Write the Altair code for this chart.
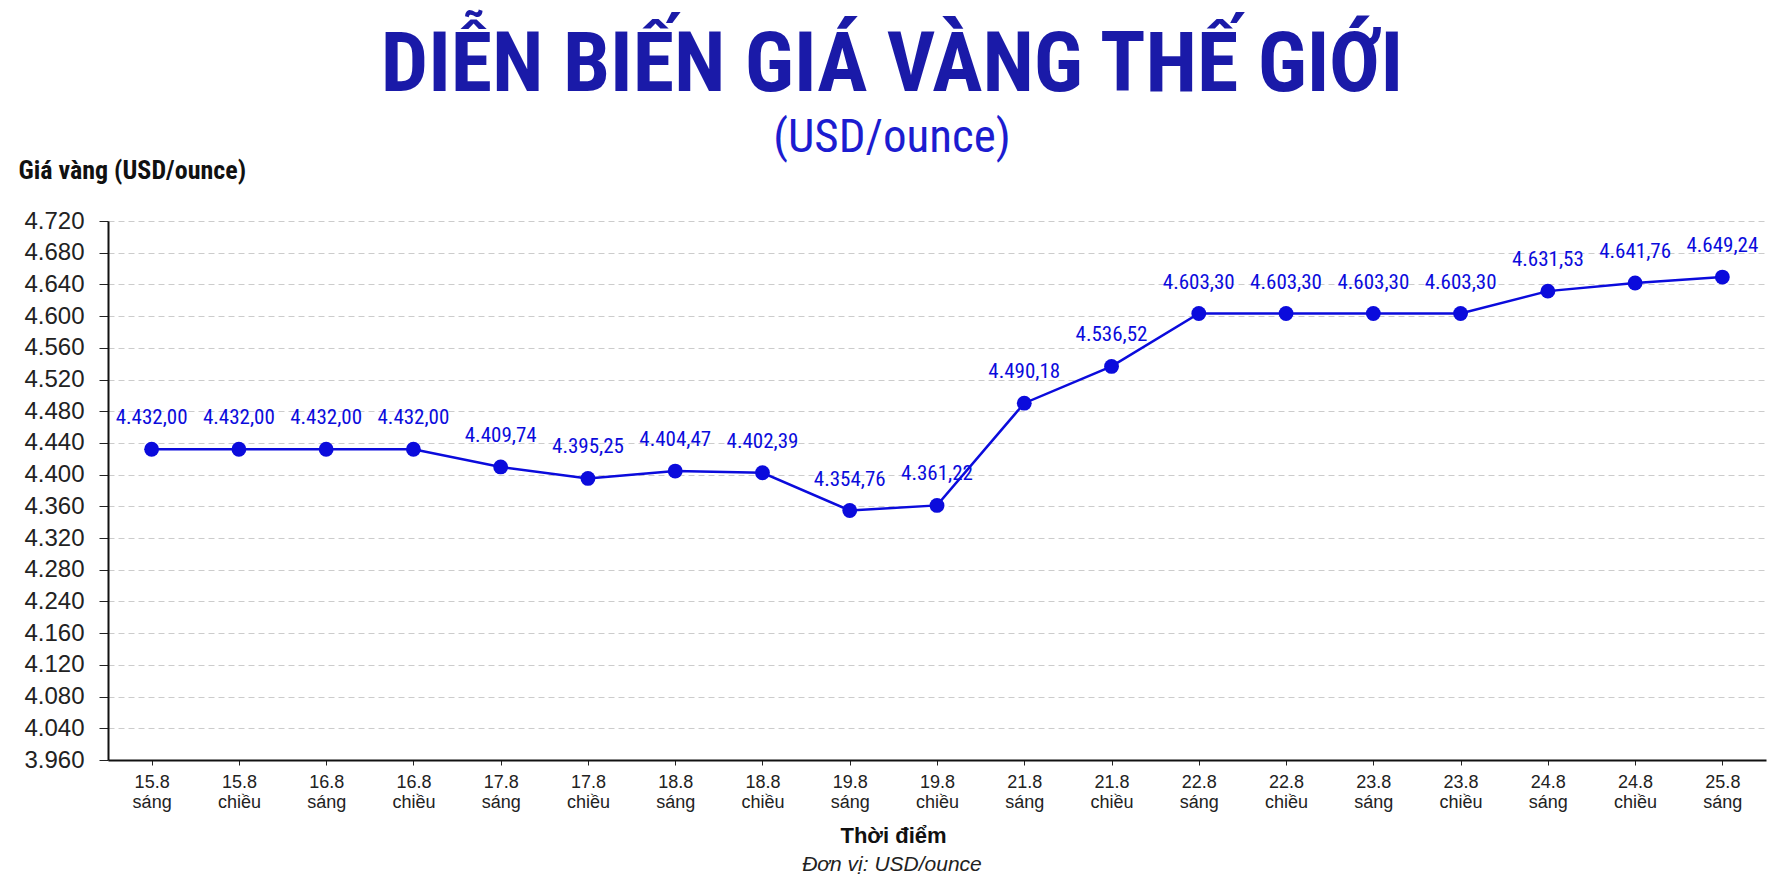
import altair as alt
import pandas as pd

MOC = [
    "15.8 sáng", "15.8 chiều", "16.8 sáng", "16.8 chiều", "17.8 sáng",
    "17.8 chiều", "18.8 sáng", "18.8 chiều", "19.8 sáng", "19.8 chiều",
    "21.8 sáng", "21.8 chiều", "22.8 sáng", "22.8 chiều", "23.8 sáng",
    "23.8 chiều", "24.8 sáng", "24.8 chiều", "25.8 sáng",
]
GIA = [
    4432.00, 4432.00, 4432.00, 4432.00, 4409.74,
    4395.25, 4404.47, 4402.39, 4354.76, 4361.22,
    4490.18, 4536.52, 4603.30, 4603.30, 4603.30,
    4603.30, 4631.53, 4641.76, 4649.24,
]
# grid positions and the labels printed next to them (as in the original)
Y_TICKS = [4040, 4080, 4120, 4160, 4200, 4240, 4280, 4320, 4360,
           4400, 4440, 4480, 4520, 4560, 4600, 4640, 4680, 4720]
Y_LABELS = ["3.960", "4.040", "4.080", "4.120", "4.160", "4.240", "4.280", "4.320", "4.360",
            "4.400", "4.440", "4.480", "4.520", "4.560", "4.600", "4.640", "4.680", "4.720"]

BLUE = "#0b0bdc"
TITLE_BLUE = "#1a1aa8"
CONDENSED = "Roboto Condensed, Roboto, sans-serif"
SANS = "Liberation Sans, Arial, sans-serif"


def vn_number(v):
    s = f"{v:,.2f}"
    return s.replace(",", "#").replace(".", ",").replace("#", ".")


df = pd.DataFrame({"moc": MOC, "gia": GIA})
df["nhan"] = [vn_number(v) for v in GIA]

label_expr = "[{}][indexof([{}], datum.value)]".format(
    ", ".join(f"'{s}'" for s in Y_LABELS), ", ".join(str(t) for t in Y_TICKS)
)

base = alt.Chart(df).encode(
    x=alt.X(
        "moc:N",
        sort=MOC,
        scale=alt.Scale(type="point", padding=0.5),
        axis=alt.Axis(
            title="Thời điểm",
            labelAngle=0,
            labelExpr="split(datum.label, ' ')",
            labelFont=SANS,
            labelFontSize=18,
            labelColor="#222222",
            labelLineHeight=20,
            labelPadding=8,
            tickSize=5,
            tickColor="#222222",
            domainColor="#111111",
            domainWidth=2,
            grid=False,
            titleFont=SANS,
            titleFontSize=22,
            titleFontWeight="bold",
            titleColor="#111111",
            titleX=785,
            titleY=75,
            titleAlign="center",
            titleBaseline="middle",
        ),
    ),
    y=alt.Y(
        "gia:Q",
        scale=alt.Scale(domain=[4040, 4720], zero=False, nice=False),
        axis=alt.Axis(
            title="Giá vàng (USD/ounce)",
            values=Y_TICKS,
            labelExpr=label_expr,
            labelFont=SANS,
            labelFontSize=24,
            labelColor="#222222",
            labelPadding=15,
            tickSize=9,
            tickColor="#222222",
            domainColor="#111111",
            domainWidth=2,
            grid=True,
            gridColor="#cccccc",
            gridDash=[6, 4],
            gridWidth=1,
            titleFont=CONDENSED,
            titleFontSize=26,
            titleFontWeight="bold",
            titleColor="#111111",
            titleAngle=0,
            titleX=-90,
            titleY=-51,
            titleAlign="left",
            titleBaseline="middle",
        ),
    ),
)

line = base.mark_line(color=BLUE, strokeWidth=2.5)
points = base.mark_circle(color=BLUE, size=220, opacity=1)
labels = base.mark_text(dy=-31, font=CONDENSED, fontSize=21, color=BLUE).encode(text="nhan:N")

inner = alt.layer(line, points, labels).properties(
    width=1658,
    height=539,
    title=alt.TitleParams(
        "Đơn vị: USD/ounce",
        orient="bottom",
        anchor="middle",
        frame="bounds",
        font=SANS,
        fontSize=21,
        fontStyle="italic",
        fontWeight="normal",
        color="#222222",
        offset=8,
    ),
)

chart = (
    alt.vconcat(inner)
    .properties(
        title=alt.TitleParams(
            "DIỄN BIẾN GIÁ VÀNG THẾ GIỚI",
            subtitle="(USD/ounce)",
            anchor="middle",
            frame="bounds",
            font=CONDENSED,
            fontSize=84,
            fontWeight="bold",
            color=TITLE_BLUE,
            subtitleFont=CONDENSED,
            subtitleFontSize=47,
            subtitleColor="#1c1cd0",
            subtitlePadding=6,
            offset=-5,
        ),
        padding={"left": 10, "top": 16, "right": 10, "bottom": 4},
        background="white",
    )
    .configure_view(stroke=None)
)

chart.save("out.html", embed_options={"renderer": "svg", "actions": False})
